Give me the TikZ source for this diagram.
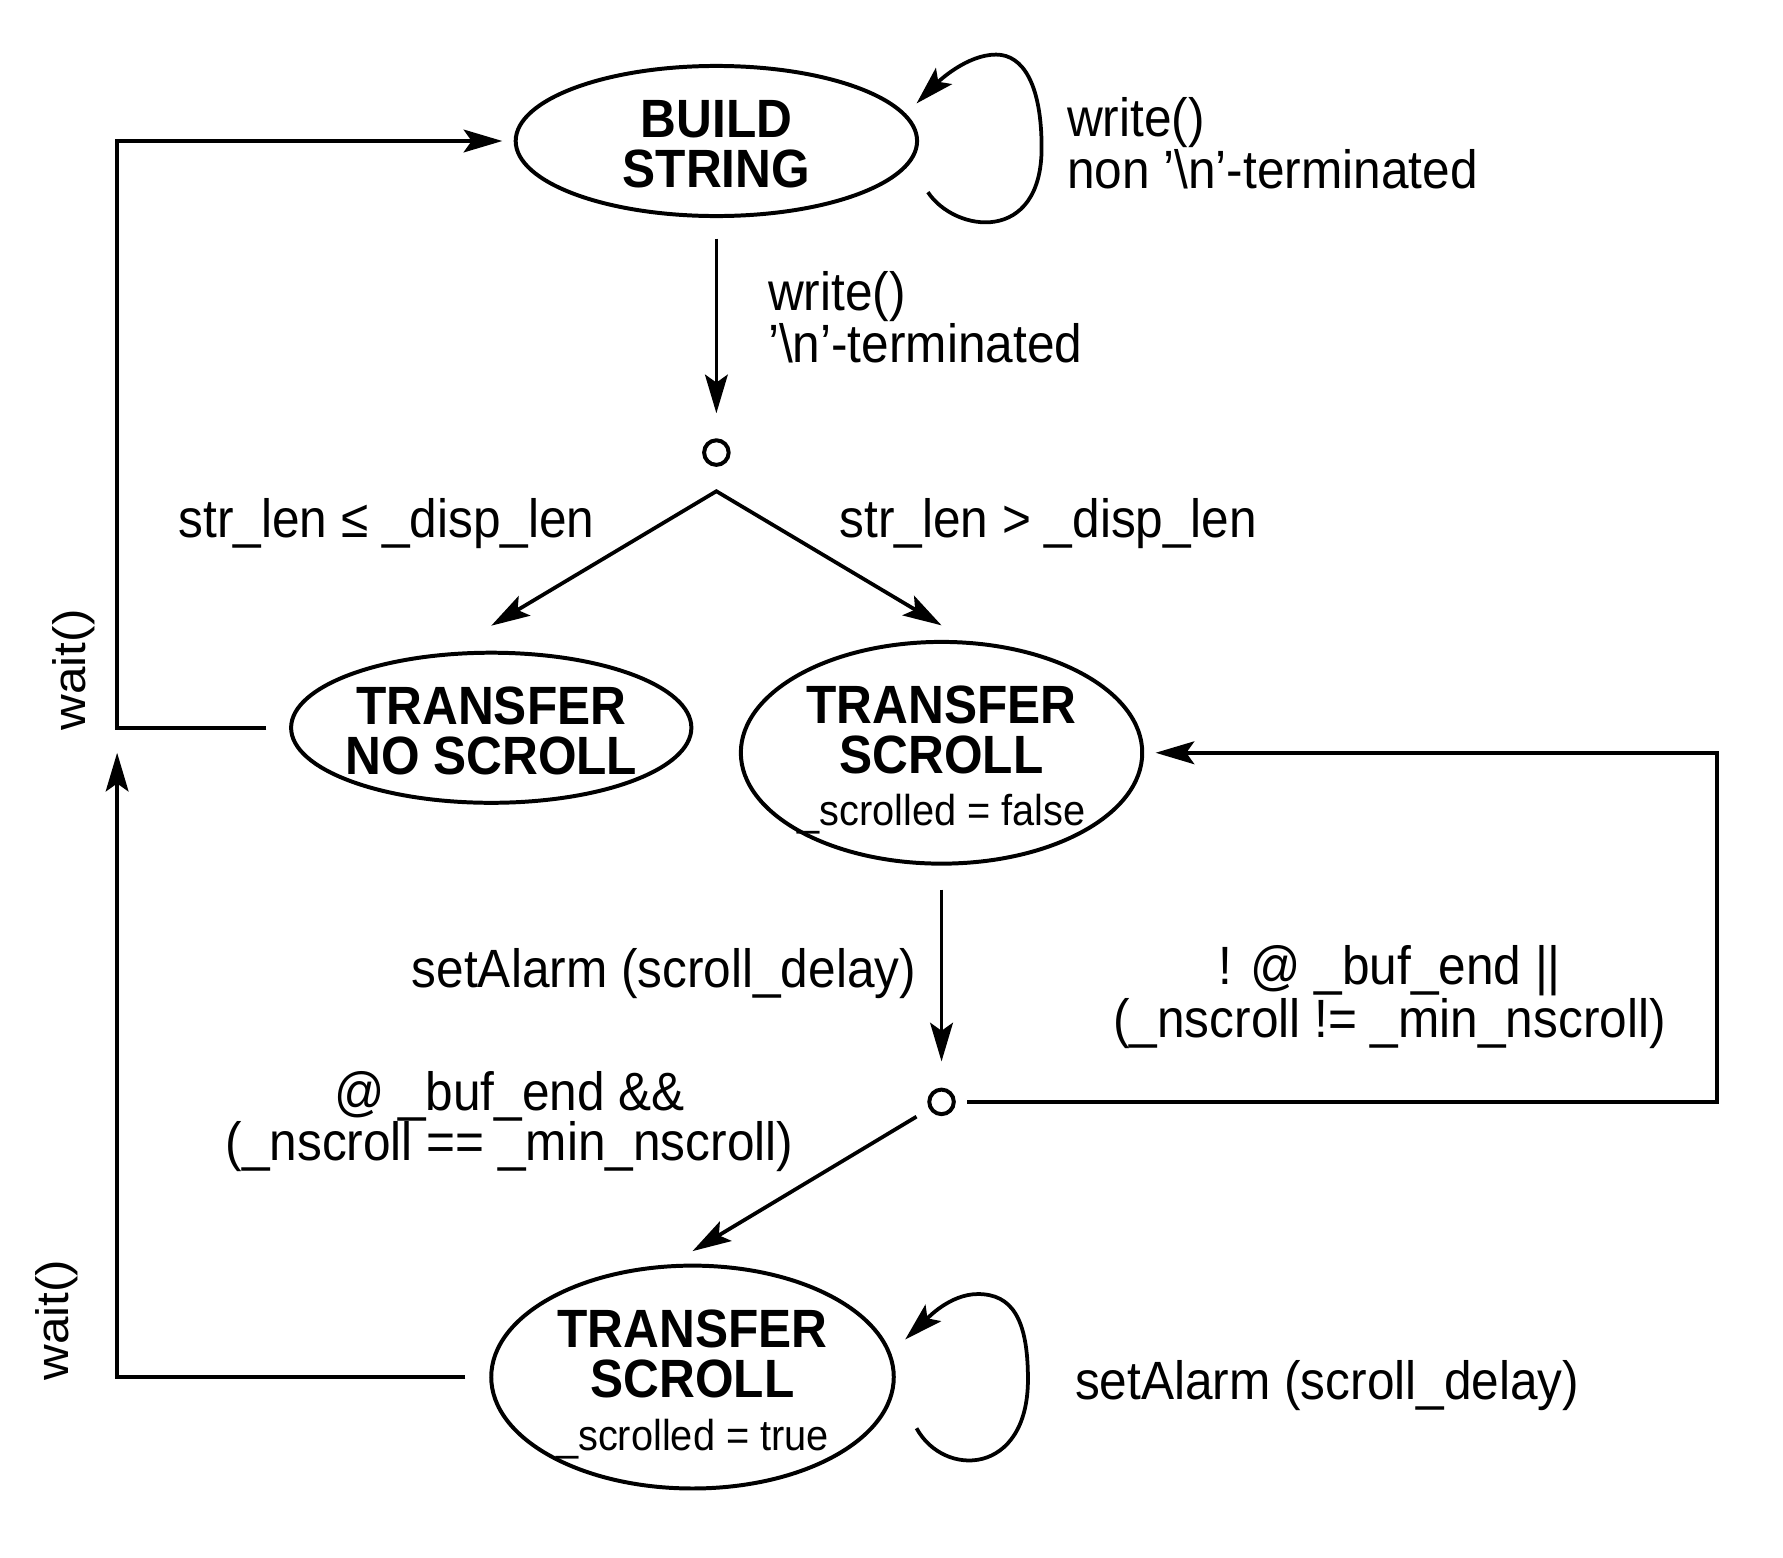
\documentclass[tikz,border=0pt]{standalone}
\usepackage{fontspec}
\setmainfont{Liberation Sans}[FakeStretch=0.92]
\newfontfamily\waitfont{Liberation Sans}[FakeStretch=1.087]
\usetikzlibrary{arrows.meta,shapes.geometric}
\begin{document}
\begin{tikzpicture}[x=0.5pt,y=-0.5pt,
  >={Stealth[length=17pt,width=10pt,inset=3.5pt]},
  line/.style={line width=1.65pt},
  state/.style={ellipse,draw,line width=1.75pt,inner sep=0pt,inner xsep=-10pt,inner ysep=-8pt,align=center,
    font=\bfseries\fontsize{23.7}{22}\selectfont},
  junc/.style={circle,draw,line width=1.75pt,minimum size=10.8pt,inner sep=0pt},
  lbl/.style={inner sep=0pt,font=\fontsize{23.7}{22}\selectfont},
  waitlbl/.style={inner sep=0pt,rotate=90,font=\waitfont\fontsize{20}{22}\selectfont}
]
\useasboundingbox (0,0) rectangle (1568,1370);

% states
\node[state,minimum width=176.5pt,minimum height=66pt] (build) at (630,124)
  {\rule{0pt}{19pt}BUILD\\STRING};
\node[state,minimum width=176pt,minimum height=66pt] (nos) at (432,640)
  {\rule{0pt}{19pt}TRANSFER\\NO SCROLL};
\node[state,minimum width=176.5pt,minimum height=97.5pt] (sf) at (828,662)
  {\rule{0pt}{23pt}TRANSFER\\SCROLL\\[1pt]{\mdseries\fontsize{19}{22}\selectfont \_scrolled = false}};
\node[state,minimum width=177pt,minimum height=98pt] (st) at (609,1211)
  {\rule{0pt}{23pt}TRANSFER\\SCROLL\\[1pt]{\mdseries\fontsize{19}{22}\selectfont \_scrolled = true}};

% junctions
\node[junc] (c1) at (630,398) {};
\node[junc] (c2) at (828,969) {};
\coordinate (apex) at ([yshift=-17pt]c1.center);
\coordinate (j) at (103,640);
\coordinate (rc) at (1510,969);
\coordinate (bl1) at (816,169);
\coordinate (bl2) at (806,91);
\coordinate (sl1) at (806,1256);
\coordinate (sl2) at (796,1178);

% labels
\node[lbl,anchor=west,align=left] (lw1) at (938,126) {write()\\non '\textbackslash n'-terminated};
\node[lbl,anchor=west,align=left] (lw2) at (675,279) {write()\\'\textbackslash n'-terminated};
\node[lbl,anchor=base] (lle) at (340,473) {str\_len ≤ \_disp\_len};
\node[lbl,anchor=base] (lgt) at (922,473) {str\_len > \_disp\_len};
\node[lbl,anchor=base east] (lsa1) at (806,868) {setAlarm (scroll\_delay)};
\node[lbl,align=center] (lnb) at (1222,877) {! @ \_buf\_end ||\\(\_nscroll != \_min\_nscroll)};
\node[lbl,align=center] (lb) at (448,986) {@ \_buf\_end \&\&\\(\_nscroll == \_min\_nscroll)};
\node[lbl,anchor=base west] (lsa2) at (945,1231) {setAlarm (scroll\_delay)};
\node[waitlbl] (w1) at (65,589) {wait()};
\node[waitlbl] (w2) at (50,1161) {wait()};

% connectors
\draw[line,->,shorten <=9pt,shorten >=11pt] (build.south) -- (c1.north);
\draw[line,<->] ([yshift=11pt]nos.north) -- (apex) -- ([yshift=6.4pt]sf.north);
\draw[line,->,shorten <=10.5pt,shorten >=11.5pt] (sf.south) -- (c2.north);
\draw[line,->] ([xshift=5pt]c2.east) -- (rc) |- ([xshift=5pt]sf.east);
\draw[line,->] ([shift={(-11pt,-6.5pt)}]c2.center) -- ([yshift=5.5pt]st.north);
\draw[line,->] ([xshift=-10pt]nos.west) -- (j) |- ([xshift=-5pt]build.west);
\draw[line,->] ([xshift=-10.5pt]st.west) -| ([yshift=-11pt]j);
\draw[line,->] (bl1) .. controls (840,205) and (916,215) .. (916,130)
  .. controls (916,75) and (900,48) .. (876,48)
  .. controls (850,48) and (825,72) .. (bl2);
\draw[line,->] (sl1) .. controls (830,1300) and (904,1298) .. (904,1213)
  .. controls (904,1160) and (890,1138) .. (860,1138)
  .. controls (835,1138) and (815,1160) .. (sl2);
\end{tikzpicture}
\end{document}
